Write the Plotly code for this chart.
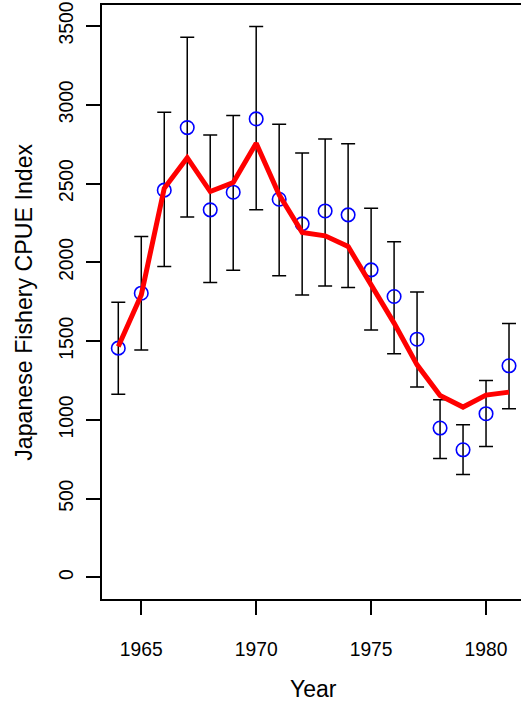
import plotly.graph_objects as go

years = list(range(1964, 1982))
cpue = [1455, 1804, 2458, 2855, 2333, 2445, 2910, 2400, 2244, 2326, 2301, 1952, 1783, 1512, 948, 810, 1039, 1343]
upper = [1747, 2163, 2952, 3428, 2808, 2931, 3496, 2876, 2694, 2783, 2753, 2343, 2130, 1812, 1127, 969, 1250, 1611]
lower = [1163, 1444, 1973, 2288, 1871, 1950, 2333, 1914, 1792, 1850, 1840, 1570, 1419, 1208, 755, 653, 831, 1070]
fitted = [1466, 1793, 2470, 2664, 2449, 2506, 2756, 2428, 2190, 2168, 2100, 1857, 1614, 1349, 1155, 1081, 1157, 1176]

x_ticks = [1965, 1970, 1975, 1980]
y_ticks = [0, 500, 1000, 1500, 2000, 2500, 3000, 3500]

FONT = "Arial, Liberation Sans, sans-serif"

fig = go.Figure()
fig.add_trace(go.Scatter(
    x=years, y=cpue, mode="markers",
    marker=dict(symbol="circle-open", size=13.5, color="#0000FF", line=dict(width=1.6, color="#0000FF")),
    error_y=dict(type="data", symmetric=False,
                 array=[u - c for u, c in zip(upper, cpue)],
                 arrayminus=[c - l for c, l in zip(cpue, lower)],
                 color="black", thickness=1.5, width=7),
    showlegend=False, cliponaxis=False, hoverinfo="skip",
))
fig.add_trace(go.Scatter(
    x=years, y=fitted, mode="lines",
    line=dict(color="#FF0000", width=5),
    showlegend=False, hoverinfo="skip",
))

px_per_year = 23.0
x_left = 1965 - (141 - 101.7) / px_per_year
x_right = x_left + (521 - 101.7) / px_per_year

fig.update_layout(
    width=521, height=706,
    margin=dict(l=101.7, r=0, t=5, b=106.7, pad=0),
    paper_bgcolor="white", plot_bgcolor="white",
    font=dict(family=FONT, color="black"),
    xaxis=dict(range=[x_left, x_right], tickvals=x_ticks, ticktext=[str(v) for v in x_ticks],
               showgrid=False, zeroline=False, showline=True, mirror=True,
               linecolor="black", linewidth=1.5, ticks="outside", ticklen=14, tickwidth=1.5,
               tickcolor="black", tickfont=dict(size=19.3, family=FONT, color="black"),
               ticklabelstandoff=18),
    yaxis=dict(range=[-137, 3633], tickvals=y_ticks, ticktext=[str(v) for v in y_ticks],
               showgrid=False, zeroline=False, showline=True, mirror=False,
               linecolor="black", linewidth=1.5, ticks="outside", ticklen=14, tickwidth=1.5,
               tickcolor="black", tickfont=dict(size=19.3, family=FONT, color="black"),
               tickangle=-90, ticklabelstandoff=6),
    annotations=[
        dict(text="Year", xref="x", yref="paper", x=1972.5, y=-0.1508,
             xanchor="center", yanchor="middle", showarrow=False,
             font=dict(size=23, family=FONT, color="black")),
        dict(text="Japanese Fishery CPUE Index", xref="paper", yref="paper",
             x=(23.5 - 101.7) / 419.3, y=0.5, textangle=-90,
             xanchor="center", yanchor="middle", showarrow=False,
             font=dict(size=23.2, family=FONT, color="black")),
    ],
)

fig.write_html("out.html", config={"displayModeBar": False},
               post_script="document.body.style.margin='0px';document.body.style.padding='0px';")
